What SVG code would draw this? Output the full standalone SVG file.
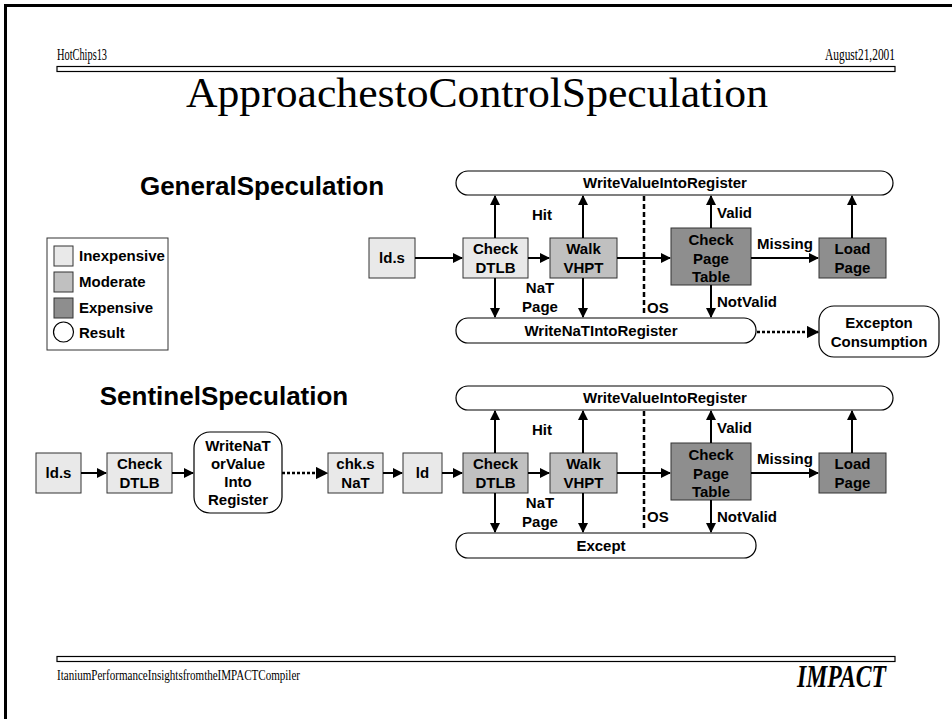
<svg xmlns="http://www.w3.org/2000/svg" width="952" height="719" viewBox="0 0 952 719">
<defs>
<style>
.serif{font-family:"Liberation Serif","Times New Roman",serif;fill:#000}
.lbl{font-family:"Liberation Sans",Arial,sans-serif;font-weight:bold;font-size:15px;fill:#000}
.mid{text-anchor:middle}
.h2{font-family:"Liberation Sans",Arial,sans-serif;font-weight:bold;font-size:26px;fill:#000}
.inexp{fill:#e9e9e9;stroke:#333;stroke-width:1}
.mod{fill:#c0c0c0;stroke:#333;stroke-width:1}
.exp{fill:#8e8e8e;stroke:#333;stroke-width:1}
.res{fill:#fff;stroke:#000;stroke-width:1.2}
.ar{stroke:#000;stroke-width:2;fill:none;marker-end:url(#ah)}
.dot{stroke:#000;stroke-width:2.5;fill:none;stroke-dasharray:3,2;marker-end:url(#ah)}
.dash{stroke:#000;stroke-width:2.5;fill:none;stroke-dasharray:5,3}
</style>
<marker id="ah" viewBox="0 0 10 10" refX="9" refY="5" markerWidth="5" markerHeight="5" orient="auto" markerUnits="strokeWidth">
<path d="M0,0 L10,5 L0,10 z" fill="#000"/>
</marker>
</defs>
<rect width="952" height="719" fill="#fff"/>
<path d="M5.5,719 V5.5 H952" fill="none" stroke="#000" stroke-width="3"/>

<g id="header">
<text class="serif" x="57" y="60" font-size="16" textLength="50" lengthAdjust="spacingAndGlyphs">HotChips13</text>
<text class="serif" x="825" y="60" font-size="16" textLength="70" lengthAdjust="spacingAndGlyphs">August21,2001</text>
<rect x="57" y="66.5" width="838" height="5" fill="#fff" stroke="#000" stroke-width="1.2"/>
<text class="serif" x="186" y="107" font-size="43" textLength="582" lengthAdjust="spacingAndGlyphs">ApproachestoControlSpeculation</text>
</g>

<g id="footer">
<rect x="57" y="656.5" width="838" height="5" fill="#fff" stroke="#000" stroke-width="1.2"/>
<text class="serif" x="57" y="680" font-size="15" textLength="243" lengthAdjust="spacingAndGlyphs">ItaniumPerformanceInsightsfromtheIMPACTCompiler</text>
<text class="serif" x="797" y="687" font-size="31" font-weight="bold" font-style="italic" textLength="89" lengthAdjust="spacingAndGlyphs">IMPACT</text>
</g>

<g id="legend">
<rect x="47" y="238" width="121" height="112" fill="#fff" stroke="#333" stroke-width="1"/>
<rect class="inexp" x="54" y="246" width="19" height="20"/>
<text class="lbl" x="79" y="261">Inexpensive</text>
<rect class="mod" x="54" y="272" width="19" height="20"/>
<text class="lbl" x="79" y="287">Moderate</text>
<rect class="exp" x="54" y="298" width="19" height="20"/>
<text class="lbl" x="79" y="313">Expensive</text>
<circle class="res" cx="63.5" cy="332" r="10"/>
<text class="lbl" x="79" y="338">Result</text>
</g>

<!-- General Speculation -->
<text id="title-general" class="h2 mid" x="262" y="195">GeneralSpeculation</text>

<g id="g-wv"><rect class="res" x="456" y="171" width="437" height="24" rx="12"/><text class="lbl mid" x="665" y="188">WriteValueIntoRegister</text></g>
<g id="g-wn"><rect class="res" x="456" y="318" width="300" height="25" rx="12"/><text class="lbl mid" x="601" y="336">WriteNaTIntoRegister</text></g>
<g id="g-exc"><rect class="res" x="819" y="306" width="120" height="51" rx="15"/><text class="lbl mid" x="879" y="328">Excepton</text><text class="lbl mid" x="879" y="347">Consumption</text></g>
<g id="g-lds"><rect class="inexp" x="369" y="238" width="46" height="40"/><text class="lbl mid" x="392" y="263">ld.s</text></g>
<g id="g-dtlb"><rect class="inexp" x="463" y="238" width="65" height="40"/><text class="lbl mid" x="495.5" y="254">Check</text><text class="lbl mid" x="495.5" y="273">DTLB</text></g>
<g id="g-vhpt"><rect class="mod" x="550" y="238" width="67" height="40"/><text class="lbl mid" x="583.5" y="254">Walk</text><text class="lbl mid" x="583.5" y="273">VHPT</text></g>
<g id="g-cpt"><rect class="exp" x="671" y="228" width="80" height="57"/><text class="lbl mid" x="711" y="245">Check</text><text class="lbl mid" x="711" y="264">Page</text><text class="lbl mid" x="711" y="282">Table</text></g>
<g id="g-load"><rect class="exp" x="819" y="238" width="67" height="40"/><text class="lbl mid" x="852.5" y="254">Load</text><text class="lbl mid" x="852.5" y="273">Page</text></g>

<g id="g-connectors">
<line class="ar" x1="415" y1="258" x2="462" y2="258"/>
<line class="ar" x1="528" y1="258" x2="549" y2="258"/>
<line class="ar" x1="617" y1="258" x2="670" y2="258"/>
<line class="ar" x1="751" y1="258" x2="818" y2="258"/>
<line class="ar" x1="495" y1="238" x2="495" y2="196"/>
<line class="ar" x1="583" y1="238" x2="583" y2="196"/>
<line class="ar" x1="711" y1="228" x2="711" y2="196"/>
<line class="ar" x1="852" y1="238" x2="852" y2="196"/>
<line class="ar" x1="495" y1="278" x2="495" y2="317"/>
<line class="ar" x1="583" y1="278" x2="583" y2="317"/>
<line class="ar" x1="711" y1="285" x2="711" y2="317"/>
<line class="dash" x1="644" y1="196" x2="644" y2="316"/>
<line class="dot" x1="757" y1="332" x2="818" y2="332"/>
</g>
<g id="g-labels">
<text class="lbl mid" x="542" y="220">Hit</text>
<text class="lbl" x="717" y="218">Valid</text>
<text class="lbl mid" x="785" y="249">Missing</text>
<text class="lbl mid" x="540" y="293">NaT</text>
<text class="lbl mid" x="540" y="312">Page</text>
<text class="lbl" x="647" y="313">OS</text>
<text class="lbl" x="717" y="307">NotValid</text>
</g>

<!-- Sentinel Speculation -->
<text id="title-sentinel" class="h2 mid" x="224" y="405">SentinelSpeculation</text>

<g id="s-lds"><rect class="inexp" x="36" y="453" width="45" height="40"/><text class="lbl mid" x="58.5" y="478">ld.s</text></g>
<g id="s-dtlb0"><rect class="inexp" x="107" y="453" width="65" height="40"/><text class="lbl mid" x="139.5" y="469">Check</text><text class="lbl mid" x="139.5" y="488">DTLB</text></g>
<g id="s-wnv"><rect class="res" x="194" y="432" width="88" height="81" rx="16"/><text class="lbl mid" x="238" y="451">WriteNaT</text><text class="lbl mid" x="238" y="469">orValue</text><text class="lbl mid" x="238" y="487">Into</text><text class="lbl mid" x="238" y="505">Register</text></g>
<g id="s-chk"><rect class="inexp" x="328" y="453" width="55" height="40"/><text class="lbl mid" x="355.5" y="469">chk.s</text><text class="lbl mid" x="355.5" y="488">NaT</text></g>
<g id="s-ld"><rect class="inexp" x="403" y="453" width="39" height="40"/><text class="lbl mid" x="422.5" y="478">ld</text></g>
<g id="s-wv"><rect class="res" x="456" y="386" width="437" height="24" rx="12"/><text class="lbl mid" x="665" y="403">WriteValueIntoRegister</text></g>
<g id="s-except"><rect class="res" x="456" y="533" width="300" height="25" rx="12"/><text class="lbl mid" x="601" y="551">Except</text></g>
<g id="s-dtlb"><rect class="mod" x="463" y="453" width="65" height="40"/><text class="lbl mid" x="495.5" y="469">Check</text><text class="lbl mid" x="495.5" y="488">DTLB</text></g>
<g id="s-vhpt"><rect class="mod" x="550" y="453" width="67" height="40"/><text class="lbl mid" x="583.5" y="469">Walk</text><text class="lbl mid" x="583.5" y="488">VHPT</text></g>
<g id="s-cpt"><rect class="exp" x="671" y="443" width="80" height="57"/><text class="lbl mid" x="711" y="460">Check</text><text class="lbl mid" x="711" y="479">Page</text><text class="lbl mid" x="711" y="497">Table</text></g>
<g id="s-load"><rect class="exp" x="819" y="453" width="67" height="40"/><text class="lbl mid" x="852.5" y="469">Load</text><text class="lbl mid" x="852.5" y="488">Page</text></g>

<g id="s-connectors">
<line class="ar" x1="81" y1="473" x2="106" y2="473"/>
<line class="ar" x1="172" y1="473" x2="193" y2="473"/>
<line class="dot" x1="282" y1="473" x2="327" y2="473"/>
<line class="ar" x1="383" y1="473" x2="402" y2="473"/>
<line class="ar" x1="442" y1="473" x2="462" y2="473"/>
<line class="ar" x1="528" y1="473" x2="549" y2="473"/>
<line class="ar" x1="617" y1="473" x2="670" y2="473"/>
<line class="ar" x1="751" y1="473" x2="818" y2="473"/>
<line class="ar" x1="495" y1="453" x2="495" y2="411"/>
<line class="ar" x1="583" y1="453" x2="583" y2="411"/>
<line class="ar" x1="711" y1="443" x2="711" y2="411"/>
<line class="ar" x1="852" y1="453" x2="852" y2="411"/>
<line class="ar" x1="495" y1="493" x2="495" y2="532"/>
<line class="ar" x1="583" y1="493" x2="583" y2="532"/>
<line class="ar" x1="711" y1="500" x2="711" y2="532"/>
<line class="dash" x1="644" y1="411" x2="644" y2="531"/>
</g>
<g id="s-labels">
<text class="lbl mid" x="542" y="435">Hit</text>
<text class="lbl" x="717" y="433">Valid</text>
<text class="lbl mid" x="785" y="464">Missing</text>
<text class="lbl mid" x="540" y="508">NaT</text>
<text class="lbl mid" x="540" y="527">Page</text>
<text class="lbl" x="647" y="522">OS</text>
<text class="lbl" x="717" y="522">NotValid</text>
</g>
</svg>
